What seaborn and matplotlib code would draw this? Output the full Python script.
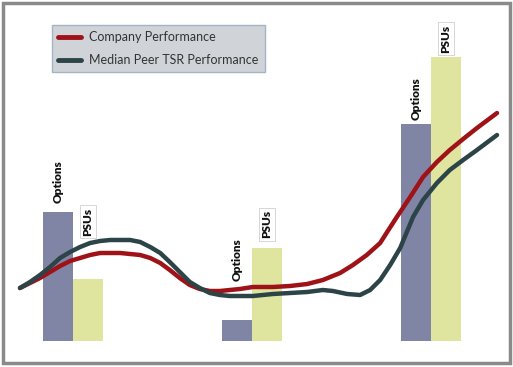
import matplotlib
matplotlib.use("Agg")
import matplotlib.pyplot as plt
from matplotlib.patches import Rectangle
import seaborn as sns
import pandas as pd

# grant-size bars (arbitrary value units)
grants = ["Grant A", "Grant B", "Grant C"]
options_values = [12.9, 2.1, 21.7]
psu_values = [6.2, 9.3, 28.4]

# performance curves: time (0..10) and performance level
company_t = [0, 0.21, 0.42, 0.63, 0.84, 1.05, 1.26, 1.47, 1.68, 1.89, 2.10, 2.31, 2.52, 2.73,
             2.94, 3.14, 3.35, 3.56, 3.77, 3.98, 4.19, 4.40, 4.61, 4.88, 5.30, 5.66, 6.02,
             6.35, 6.71, 6.98, 7.27, 7.55, 7.71, 7.90, 8.18, 8.45, 8.74, 9.01, 9.29, 9.58, 10.0]
company_perf = [5.3, 5.8, 6.3, 6.9, 7.5, 8.0, 8.3, 8.6, 8.8, 8.8, 8.8, 8.7, 8.6, 8.3,
                7.8, 7.1, 6.3, 5.6, 5.2, 5.0, 5.0, 5.1, 5.2, 5.4, 5.4, 5.5, 5.7,
                6.1, 6.8, 7.6, 8.6, 9.8, 11.0, 12.4, 14.4, 16.4, 17.9, 19.1, 20.2, 21.3, 22.8]
peer_t = [0, 0.21, 0.42, 0.63, 0.84, 1.05, 1.26, 1.47, 1.68, 1.89, 2.10, 2.31, 2.52, 2.73,
          2.94, 3.14, 3.35, 3.56, 3.77, 3.98, 4.19, 4.40, 4.61, 4.88, 5.30, 5.66, 6.02,
          6.35, 6.56, 6.86, 7.13, 7.34, 7.55, 7.76, 7.97, 8.24, 8.45, 8.74, 9.01, 9.29, 9.58, 10.0]
peer_perf = [5.3, 5.9, 6.6, 7.4, 8.3, 8.9, 9.4, 9.8, 10.0, 10.1, 10.1, 10.1, 9.9, 9.4,
             8.8, 7.9, 6.9, 5.9, 5.3, 4.8, 4.6, 4.5, 4.5, 4.5, 4.7, 4.8, 4.9,
             5.1, 5.0, 4.7, 4.6, 5.1, 6.1, 7.6, 9.3, 12.4, 14.1, 15.8, 17.1, 18.1, 19.1, 20.6]

series_names = ["Company Performance", "Median Peer TSR Performance"]
line_colors = ["#9e1218", "#2c4447"]
bar_colors = ["#8085a6", "#dfe59e"]

bars = pd.DataFrame({
    "grant": grants * 2,
    "value": options_values + psu_values,
    "award": ["Options"] * 3 + ["PSUs"] * 3,
})
lines = pd.DataFrame({
    "t": company_t + peer_t,
    "perf": company_perf + peer_perf,
    "series": [series_names[0]] * len(company_t) + [series_names[1]] * len(peer_t),
})

sns.set_style("white")
plt.rcParams["font.family"] = ["Lato", "DejaVu Sans"]

fig = plt.figure(figsize=(5.13, 3.67), dpi=100)
ax = fig.add_axes([0, 0, 1, 1])

sns.barplot(data=bars, x="grant", y="value", hue="award", palette=bar_colors,
            saturation=1, width=0.335, linewidth=0, legend=False, ax=ax)
ax.set_xlim(-0.408, 2.458)
ax.set_ylim(-2.6, 34.1)
ax.axis("off")

# labels above bars, offsets in points chosen to dodge the curves
label_pad = {"Options": [6.5, 28, 3], "PSUs": [31, 7, 3]}
for container, award in zip(ax.containers, ["Options", "PSUs"]):
    for i, patch in enumerate(container):
        x = patch.get_x() + patch.get_width() / 2
        y = patch.get_height()
        kw = dict(rotation=90, ha="center", va="bottom", fontsize=8.5,
                  fontweight="heavy", textcoords="offset points",
                  xytext=(0, label_pad[award][i]), color="#111111")
        if award == "PSUs":
            kw["bbox"] = dict(boxstyle="square,pad=0.2", fc="white",
                              ec="#d0d0d0", lw=0.6)
        ax.annotate(award, (x, y), **kw)

ax2 = ax.twiny()
sns.lineplot(data=lines, x="t", y="perf", hue="series", hue_order=series_names,
             palette=line_colors, linewidth=3.2, errorbar=None, ax=ax2)
for ln in ax2.get_lines():
    ln.set_solid_capstyle("round")
    ln.set_solid_joinstyle("round")
ax2.set_xlim(-0.419, 10.335)
ax2.axis("off")

handles, labels = ax2.get_legend_handles_labels()
leg = ax2.legend(handles, labels, loc="upper left",
                 bbox_to_anchor=(52 / 513, 1 - 25 / 367), bbox_transform=fig.transFigure,
                 borderaxespad=0, fontsize=9, frameon=True, fancybox=False, framealpha=1,
                 facecolor="#d0d4d9", edgecolor="#a5b3c3",
                 handlelength=1.85, handletextpad=0.6, labelspacing=0.85,
                 borderpad=0.5, labelcolor="#333333")
leg.get_frame().set_linewidth(1.0)
for ln in leg.get_lines():
    ln.set_linewidth(3.5)

fig.add_artist(Rectangle((0.0058, 0.011), 0.988, 0.981, transform=fig.transFigure,
                         fill=False, lw=2.5, ec="#8a8a8a"))

fig.savefig("out.png", dpi=100)
